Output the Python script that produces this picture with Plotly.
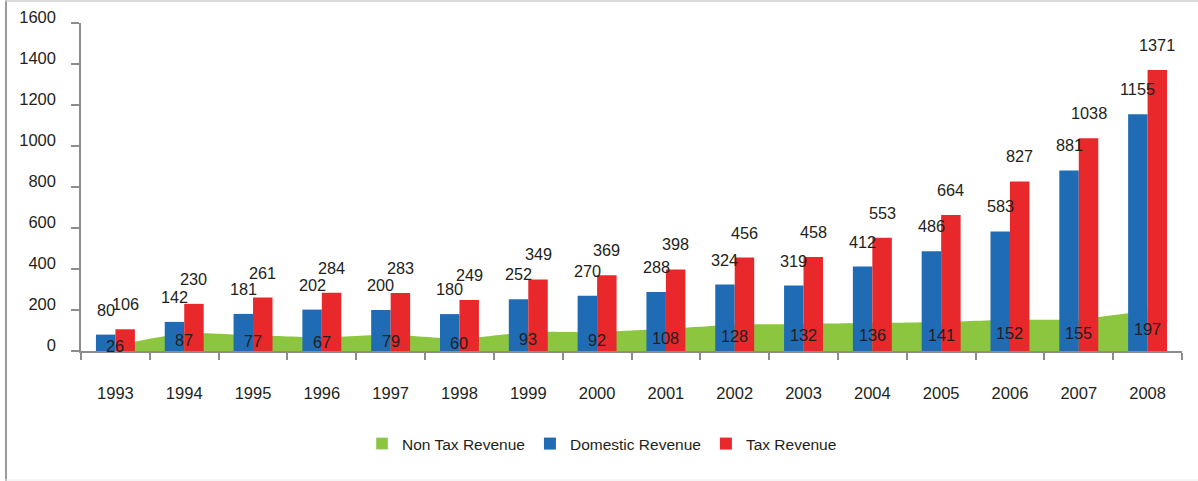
import plotly.graph_objects as go

years = ["1993", "1994", "1995", "1996", "1997", "1998", "1999", "2000",
         "2001", "2002", "2003", "2004", "2005", "2006", "2007", "2008"]
domestic = [80, 142, 181, 202, 200, 180, 252, 270, 288, 324, 319, 412, 486, 583, 881, 1155]
tax = [106, 230, 261, 284, 283, 249, 349, 369, 398, 456, 458, 553, 664, 827, 1038, 1371]
non_tax = [26, 87, 77, 67, 79, 60, 93, 92, 108, 128, 132, 136, 141, 152, 155, 197]
y_ticks = [0, 200, 400, 600, 800, 1000, 1200, 1400, 1600]

GREEN = "#8cc63f"
BLUE = "#1f6cb5"
RED = "#e8282b"
TXT = "#231f20"
AX = "#8c8c8c"
FONT = "Liberation Sans, Arial, sans-serif"

W, H = 1198, 481
ML, MR, MT, MB = 81, 16, 23, 130
BW = 0.283  # bar width in category units

fig = go.Figure()

# green area on the base subplot (drawn beneath the bars)
fig.add_trace(go.Scatter(
    x=years, y=non_tax, mode="lines", fill="tozeroy",
    line=dict(color=GREEN, width=0, shape="spline", smoothing=0.6),
    fillcolor=GREEN, showlegend=False, hoverinfo="skip",
    xaxis="x", yaxis="y"))

# legend proxy for the area
fig.add_trace(go.Bar(
    x=[years[0]], y=[None], name="Non Tax Revenue", marker_color=GREEN,
    xaxis="x2", yaxis="y2"))
fig.add_trace(go.Bar(
    x=years, y=domestic, name="Domestic Revenue", marker_color=BLUE,
    marker_line_width=0, width=BW, offset=-BW, xaxis="x2", yaxis="y2"))
fig.add_trace(go.Bar(
    x=years, y=tax, name="Tax Revenue", marker_color=RED,
    marker_line_width=0, width=BW, offset=0, xaxis="x2", yaxis="y2"))

annotations = []
lab_font = dict(family=FONT, size=16.3, color=TXT)
for i in range(len(years)):
    annotations.append(dict(x=i - BW / 2, y=domestic[i], xref="x", yref="y",
                            text=str(domestic[i]), showarrow=False,
                            yanchor="middle", yshift=25, font=lab_font))
    annotations.append(dict(x=i + BW / 2, y=tax[i], xref="x", yref="y",
                            text=str(tax[i]), showarrow=False,
                            yanchor="middle", yshift=25, font=lab_font))
    annotations.append(dict(x=i, y=non_tax[i] / 2, xref="x", yref="y",
                            text=str(non_tax[i]), showarrow=False,
                            yanchor="middle", yshift=2, font=lab_font))

pw = W - ML - MR
ph = H - MT - MB
def px_x(p):
    return (p - ML) / pw
def px_y(p):
    return (H - MB - p) / ph

shapes = [
    dict(type="line", xref="paper", yref="paper",
         x0=px_x(6), x1=px_x(6), y0=px_y(0), y1=px_y(H),
         line=dict(color="#9a9a9a", width=2)),
    dict(type="line", xref="paper", yref="paper",
         x0=px_x(5), x1=px_x(W), y0=px_y(1), y1=px_y(1),
         line=dict(color="#d0d0d0", width=1.5)),
    dict(type="line", xref="paper", yref="paper",
         x0=px_x(5), x1=px_x(W), y0=px_y(H - 1), y1=px_y(H - 1),
         line=dict(color="#ececec", width=1)),
]

fig.update_layout(
    width=W, height=H,
    margin=dict(l=ML, r=MR, t=MT, b=MB, autoexpand=False),
    paper_bgcolor="white", plot_bgcolor="rgba(0,0,0,0)",
    barmode="overlay",
    font=dict(family=FONT, size=15, color=TXT),
    xaxis=dict(type="category", categoryorder="array", categoryarray=years,
               range=[-0.5, len(years) - 0.5], tickson="boundaries",
               ticks="outside", ticklen=7, tickcolor=AX, tickwidth=1.5,
               showline=True, linecolor=AX, linewidth=1.5,
               showgrid=False, zeroline=False, automargin=False,
               tickfont=dict(family=FONT, size=16.5, color=TXT),
               ticklabelstandoff=26, fixedrange=True),
    yaxis=dict(range=[0, 1600], tickvals=y_ticks, ticks="outside",
               ticklen=8, tickcolor=AX, tickwidth=1.5,
               showline=True, linecolor=AX, linewidth=1.5,
               showgrid=False, zeroline=False, automargin=False,
               tickfont=dict(family=FONT, size=16.5, color=TXT),
               ticklabelstandoff=12, ticklabelshift=-6),
    xaxis2=dict(type="category", categoryorder="array", categoryarray=years,
                range=[-0.5, len(years) - 0.5], overlaying="x",
                visible=False),
    yaxis2=dict(range=[0, 1600], overlaying="y", visible=False),
    legend=dict(orientation="h", x=px_x(602), xanchor="center",
                y=px_y(427), yanchor="top",
                font=dict(family=FONT, size=15.5, color=TXT),
                bgcolor="rgba(0,0,0,0)"),
    annotations=annotations,
    shapes=shapes,
    showlegend=True,
)

fig.write_html("out.html",
               config={"displayModeBar": False},
               post_script="document.body.style.margin='0';"
                           "document.body.style.overflow='hidden';")
